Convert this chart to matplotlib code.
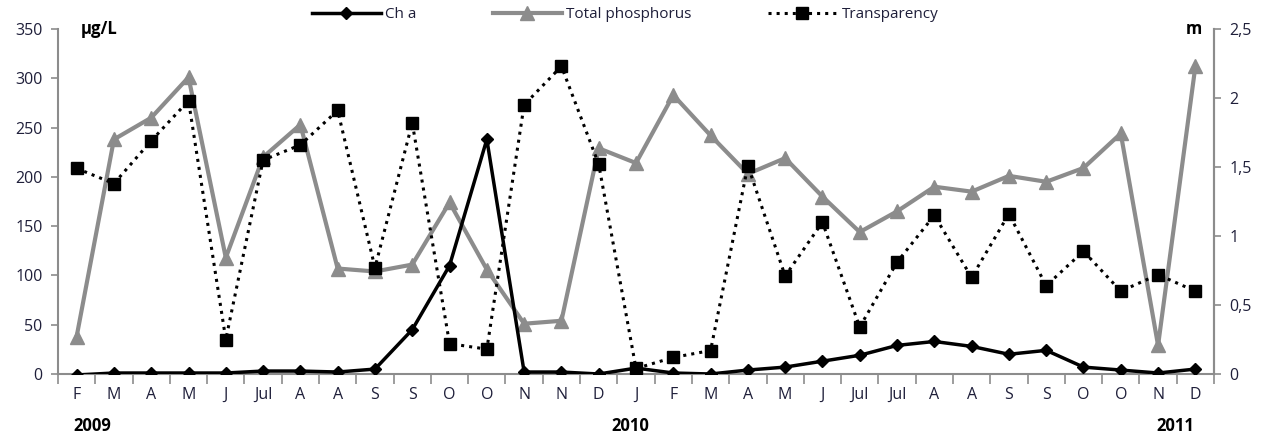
import numpy as np
import matplotlib.pyplot as plt

# month labels along the x axis
months = ['F', 'M', 'A', 'M', 'J', 'Jul', 'A', 'A', 'S', 'S', 'O', 'O', 'N', 'N', 'D',
          'J', 'F', 'M', 'A', 'M', 'J', 'Jul', 'Jul', 'A', 'A', 'S', 'S', 'O', 'O', 'N', 'D']

# Ch a (ug/L, left axis)
cha = [-1, 1, 1, 1, 1, 3, 3, 2, 5, 45, 110, 238, 2, 2, 0,
       6, 1, 0, 4, 7, 13, 19, 29, 33, 28, 20, 24, 7, 4, 1, 5]

# Total phosphorus (ug/L, left axis)
tp = [38, 238, 260, 301, 118, 220, 253, 107, 104, 111, 174, 106, 51, 54, 229,
      214, 283, 242, 203, 219, 180, 144, 165, 190, 185, 201, 195, 209, 244, 29, 312]

# Transparency (m, right axis)
transp = [1.49, 1.38, 1.69, 1.98, 0.25, 1.55, 1.66, 1.91, 0.77, 1.82, 0.22, 0.18, 1.95, 2.23, 1.52,
          0.04, 0.12, 0.17, 1.51, 0.71, 1.10, 0.34, 0.81, 1.15, 0.70, 1.16, 0.64, 0.89, 0.60, 0.72, 0.60]

years = ['2009', '2010', '2011']

plt.rcParams['font.family'] = ['Open Sans', 'DejaVu Sans']

fig = plt.figure(figsize=(12.67, 4.36), dpi=100)
ax = fig.add_axes([58 / 1267, 1 - 374 / 436, (1214 - 58) / 1267, 345 / 436])
ax2 = ax.twinx()

x = np.arange(len(months))
grey = '#8c8c8c'
txt = '#1f1f3a'

l2, = ax.plot(x, tp, color=grey, lw=3, marker='^', ms=10, label='Total phosphorus', zorder=2)
l1, = ax.plot(x, cha, color='black', lw=2.5, marker='D', ms=6.5, label='Ch a', zorder=4)
l3, = ax2.plot(x, transp, color='black', lw=2.2, ls=':', marker='s', ms=9,
               label='Transparency', zorder=3)

ax.set_xlim(-0.5, len(months) - 0.5)
ax.set_ylim(0, 350)
ax2.set_ylim(0, 2.5)
ax.set_yticks(range(0, 351, 50))
ax2.set_yticks([0, 0.5, 1, 1.5, 2, 2.5])
ax2.set_yticklabels(['0', '0,5', '1', '1,5', '2', '2,5'])

ax.set_xticks(x)
ax.set_xticklabels(months)
ax.set_xticks(np.arange(-0.5, len(months), 1), minor=True)
ax.tick_params(axis='x', which='major', length=0, pad=9, labelsize=11.5, labelcolor=txt)
ax.tick_params(axis='x', which='minor', length=7, color=grey, width=1.2)
ax.tick_params(axis='y', length=5, color=grey, width=1.2, labelsize=11.5, labelcolor=txt, pad=6)
ax2.tick_params(axis='y', length=5, color=grey, width=1.2, labelsize=11.5, labelcolor=txt, pad=6)

for a in (ax, ax2):
    a.spines['top'].set_visible(False)
    for s in ('left', 'right', 'bottom'):
        a.spines[s].set_color(grey)
        a.spines[s].set_linewidth(1.5)
ax2.spines['left'].set_visible(False)
ax2.spines['bottom'].set_visible(False)

ax.text(0.02, 1.0, 'µg/L', transform=ax.transAxes, fontsize=12, fontweight='bold',
        va='center', ha='left', color='black')
ax.text(0.99, 1.0, 'm', transform=ax.transAxes, fontsize=12, fontweight='bold',
        va='center', ha='right', color='black')

# year labels under the month labels
for xp, yr in zip([92, 630, 1175], years):
    fig.text(xp / 1267, 1 - 426 / 436, yr, fontsize=12, fontweight='bold',
             ha='center', va='center', color='black')

fig.legend(handles=[l1, l2, l3], loc='center', bbox_to_anchor=(625 / 1267, 1 - 15 / 436),
           ncol=3, frameon=False, fontsize=11, columnspacing=5, handlelength=4.5,
           handletextpad=0.3, labelcolor=txt)

fig.savefig('out.png', dpi=100)
